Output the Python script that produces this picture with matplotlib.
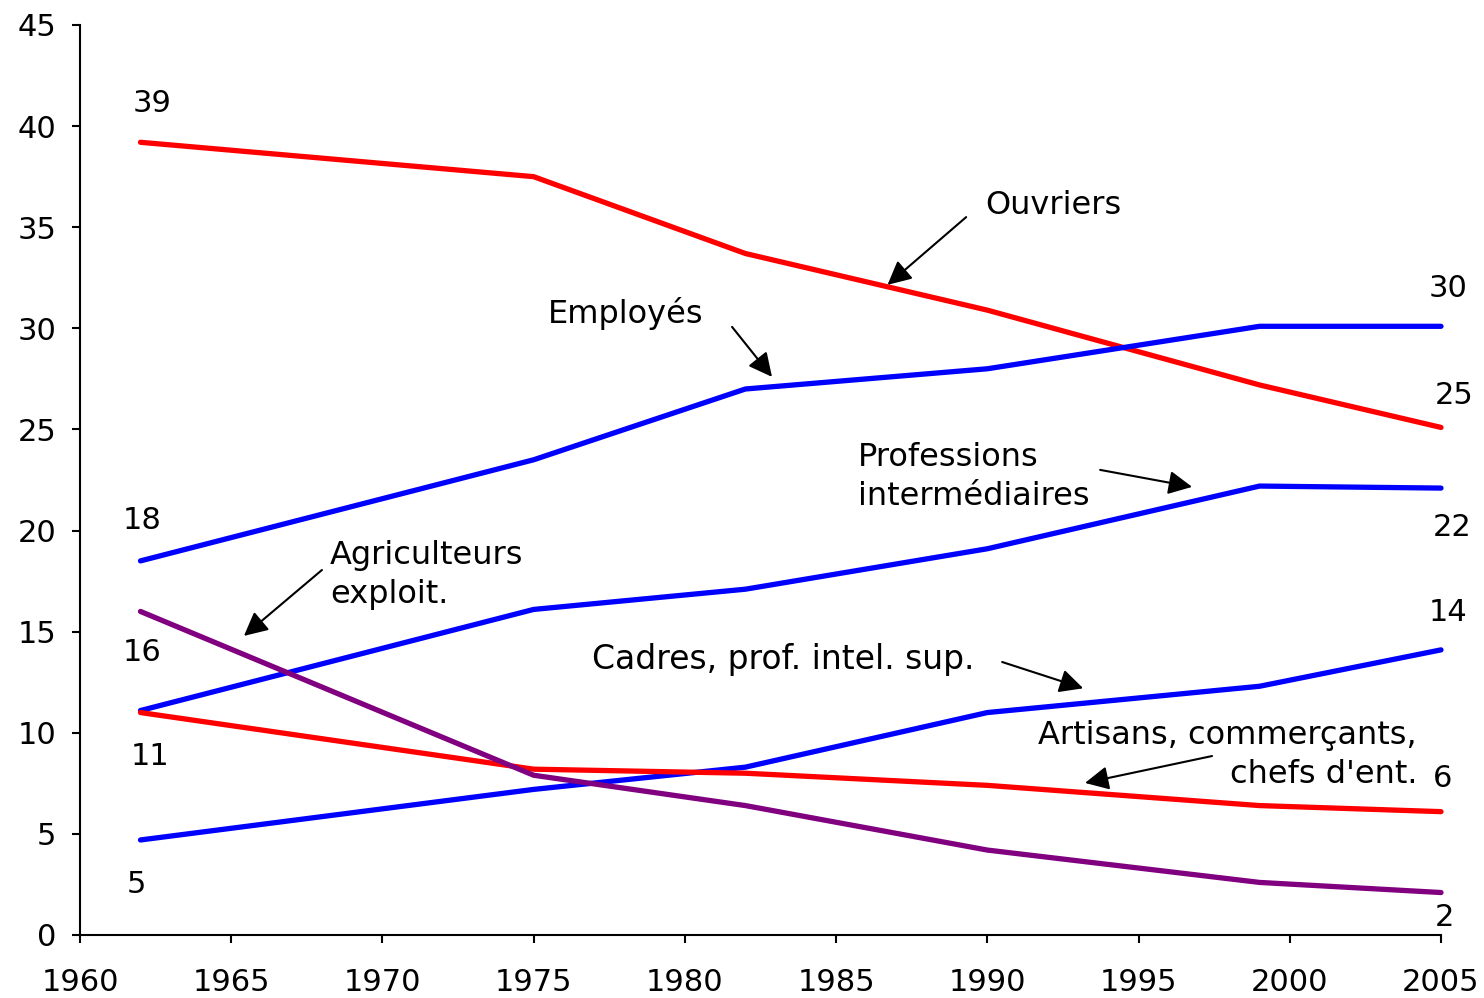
import matplotlib
matplotlib.use("Agg")
import matplotlib.pyplot as plt

years = [1962, 1975, 1982, 1990, 1999, 2005]
ouvriers = [39.2, 37.5, 33.7, 30.9, 27.2, 25.1]
employes = [18.5, 23.5, 27.0, 28.0, 30.1, 30.1]
prof_inter = [11.1, 16.1, 17.1, 19.1, 22.2, 22.1]
cadres = [4.7, 7.2, 8.3, 11.0, 12.3, 14.1]
artisans = [11.0, 8.2, 8.0, 7.4, 6.4, 6.1]
agriculteurs = [16.0, 7.9, 6.4, 4.2, 2.6, 2.1]

x_ticks = [1960, 1965, 1970, 1975, 1980, 1985, 1990, 1995, 2000, 2005]
y_ticks = [0, 5, 10, 15, 20, 25, 30, 35, 40, 45]

RED = "#FF0000"
BLUE = "#0000FF"
PURPLE = "#800080"

plt.rcParams['font.family'] = ['DejaVu Sans']
fs_num = 22
fs_lab = 23

fig = plt.figure(figsize=(14.84, 9.98), dpi=100)
ax = fig.add_axes([80/1484, 63/998, (1441-80)/1484, (935-25)/998])

lw = 3.8
for series, col in [(ouvriers, RED), (employes, BLUE), (prof_inter, BLUE),
                    (cadres, BLUE), (artisans, RED), (agriculteurs, PURPLE)]:
    ax.plot(years, series, color=col, lw=lw, clip_on=False, solid_capstyle='round',
            solid_joinstyle='round')

ax.set_xlim(1960, 2005)
ax.set_ylim(0, 45)
ax.set_xticks(x_ticks)
ax.set_yticks(y_ticks)
for s in ['top', 'right']:
    ax.spines[s].set_visible(False)
for s in ['left', 'bottom']:
    ax.spines[s].set_linewidth(1.5)
ax.tick_params(axis='both', direction='out', length=6, width=1.5, labelsize=fs_num)
ax.tick_params(axis='x', pad=18)
ax.tick_params(axis='y', pad=11)

# value labels
start_labels = [(1962.38, 41.1, "39"), (1962.05, 20.52, "18"), (1962.05, 13.95, "16"),
                (1962.31, 8.85, "11"), (1961.85, 2.52, "5")]
end_labels = [(2005.24, 31.95, "30"), (2005.44, 26.7, "25"), (2005.37, 20.13, "22"),
              (2005.24, 15.97, "14"), (2005.04, 7.76, "6"), (2005.1, 0.89, "2")]
for x, y, t in start_labels + end_labels:
    ax.text(x, y, t, fontsize=fs_num, ha='center', va='center', clip_on=False)

# category labels
ls = 1.35
ax.text(1989.93, 36.05, "Ouvriers", fontsize=fs_lab, ha='left', va='center')
ax.text(1975.48, 30.74, "Employés", fontsize=fs_lab, ha='left', va='center')
ax.text(1985.73, 22.65, "Professions\nintermédiaires", fontsize=fs_lab, ha='left',
        va='center', linespacing=ls)
ax.text(1968.27, 17.8, "Agriculteurs\nexploit.", fontsize=fs_lab, ha='left', va='center',
        linespacing=ls)
ax.text(1976.93, 13.6, "Cadres, prof. intel. sup.", fontsize=fs_lab + 0.8, ha='left',
        va='center')
ax.text(2004.21, 8.9, "Artisans, commerçants,\nchefs d'ent.", fontsize=fs_lab, ha='right',
        va='center', multialignment='right', linespacing=ls)

arrows = [((1989.3, 35.5), (1986.7, 32.15)),
          ((1981.56, 30.07), (1982.88, 27.6)),
          ((1993.73, 23.0), (1996.77, 22.16)),
          ((1968.0, 18.05), (1965.42, 14.79)),
          ((1990.49, 13.5), (1993.17, 12.2)),
          ((1997.43, 8.85), (1993.23, 7.52))]
for tail, head in arrows:
    ax.annotate('', xy=head, xytext=tail,
                arrowprops=dict(arrowstyle='-|>', color='black', lw=1.5,
                                mutation_scale=36, shrinkA=0, shrinkB=0))

fig.savefig("out.png", dpi=100)
